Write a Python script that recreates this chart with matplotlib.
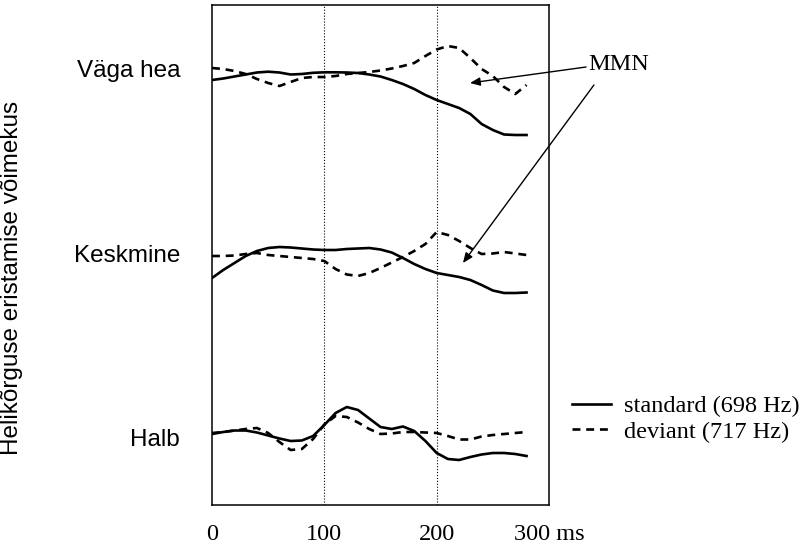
import matplotlib.pyplot as plt
import numpy as np

# aeg (ms) ja kõverad kolme grupi kaupa (ERP, negatiivne üles)
aeg = np.arange(0, 281, 10)

hea_std = [80, 78.5, 76.5, 74.5, 72.5, 71.7, 72.5, 74.5, 74, 72.8, 72.3, 72.3, 72.5, 73, 74.5,
           76.5, 80, 84, 89, 95, 100, 104, 108, 114, 124, 130, 134.5, 135, 135]
hea_dev = [68, 69, 71, 74, 79, 83, 86, 82, 78, 77, 77, 76, 74, 73, 72,
           70.5, 68.5, 66, 63, 56, 49.5, 46, 48, 58, 69, 76, 87, 94, 85]

kesk_std = [278, 270, 263, 256, 251, 248, 247, 247.5, 248.5, 249.5, 250, 250, 249, 248.5, 248,
            249.5, 252.5, 258, 264, 269, 273, 275, 277, 280, 285, 290.5, 293, 293, 292.5]
kesk_dev = [256, 256, 255.5, 254, 253, 255, 256, 257, 258, 259, 261, 269, 274.5, 276, 273,
            268, 262.5, 257, 251, 244, 232, 235, 241, 248, 254, 253.5, 252, 253.5, 255]

halb_std = [434, 432, 430.5, 430.5, 432.5, 435.5, 438.5, 441, 440.5, 436, 425, 413, 407, 410, 418.5,
            427, 429, 426.5, 431, 441, 453, 459, 460, 457, 454.5, 453, 453, 454, 456]
halb_dev = [433, 432, 430.5, 429, 428, 433, 442, 450, 449, 439, 424.5, 416, 417, 422.5, 429,
            434, 433.5, 432, 432, 432.5, 433, 436, 439.5, 439.5, 436.5, 435, 434, 433, 432]

grupid = ['Väga hea', 'Keskmine', 'Halb']
grupi_tase = [68, 253, 437]
x_ticks = [0, 100, 200, 300]
x_labels = ['0', '100', '200', '300 ms']

#========================================================================
fig = plt.figure(figsize=(8.11, 5.47), dpi=100)
ax = fig.add_axes([212/811, 42/547, 337/811, 500/547])

serif = 'Liberation Serif'
sans = 'Liberation Sans'

ax.axvline(100, color='black', linestyle=':', linewidth=0.8)
ax.axvline(200, color='black', linestyle=':', linewidth=0.8)

dash = (0, (3.0, 2.2))
for std, dev in [(hea_std, hea_dev), (kesk_std, kesk_dev), (halb_std, halb_dev)]:
    l1, = ax.plot(aeg, std, color='black', linewidth=1.9, solid_joinstyle='round')
    l2, = ax.plot(aeg, dev, color='black', linewidth=1.9, linestyle=dash)

ax.set_xlim(0, 300)
ax.set_ylim(505, 5)

for s in ax.spines.values():
    s.set_linewidth(1.1)

ax.set_xticks(x_ticks)
ax.set_xticklabels(x_labels, fontfamily=serif, fontsize=17.5)
ax.set_yticks(grupi_tase)
ax.set_yticklabels(grupid, fontfamily=sans, fontsize=17.5)
ax.tick_params(axis='x', length=0, pad=14)
ax.tick_params(axis='y', length=0, pad=23)

ax.set_ylabel('Helikõrguse eristamise võimekus', fontfamily=sans, fontsize=17.5)
ax.yaxis.set_label_coords(-0.56, 0.454)

# MMN nooled
nool = dict(arrowstyle='-|>,head_length=0.6,head_width=0.25', color='black', lw=1.0,
            shrinkA=0, shrinkB=0)
ax.annotate('', xy=(229.7, 83), xytext=(333, 67), arrowprops=nool, annotation_clip=False)
ax.annotate('', xy=(223.4, 263), xytext=(340, 85), arrowprops=nool, annotation_clip=False)
ax.text(335, 65, 'MMN', fontfamily=serif, fontsize=17.5, va='center', ha='left', clip_on=False)

ax.legend([l1, l2], ['standard (698 Hz)', 'deviant (717 Hz)'],
          loc='upper left', bbox_to_anchor=(572/811, 1 - 395/547), bbox_transform=fig.transFigure,
          frameon=False, borderpad=0, borderaxespad=0, handlelength=1.6, handletextpad=0.55,
          labelspacing=0.15, prop={'family': serif, 'size': 17.5})

fig.savefig('out.png', dpi=100)
